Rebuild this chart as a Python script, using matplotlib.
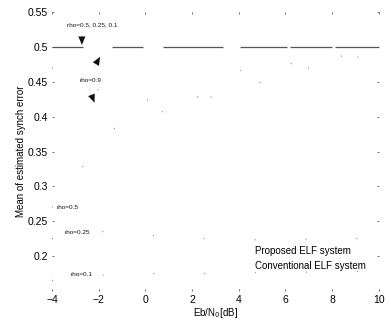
import numpy as np
import matplotlib
matplotlib.use("Agg")
import matplotlib.pyplot as plt

plt.rcParams["font.family"] = ["Liberation Sans", "DejaVu Sans"]

# ------------------------------------ data
ebno = [-4, -3, -2, -1, 0, 1, 2, 3, 4, 5, 6, 7, 8, 9, 10]

prop_mean = [0.5, 0.5, 0.5, 0.5, 0.5, 0.5, 0.5, 0.5,
             0.5, 0.5, 0.5, 0.5, 0.5, 0.5, 0.5]

conv_rho09 = [0.47, 0.45, 0.438, 0.426, 0.424, 0.424, 0.425, 0.44,
              0.466, 0.47, 0.475, 0.48, 0.485, 0.49, 0.495]
conv_rho05 = [0.27, 0.31, 0.369, 0.39, 0.40, 0.41, 0.42, 0.43,
              0.44, 0.45, 0.46, 0.47, 0.48, 0.485, 0.49]
conv_rho025 = [0.225, 0.23, 0.235, 0.235, 0.23, 0.228, 0.226, 0.225,
               0.224, 0.223, 0.223, 0.224, 0.224, 0.225, 0.225]
conv_rho01 = [0.165, 0.17, 0.172, 0.174, 0.175, 0.175, 0.175, 0.175,
              0.176, 0.176, 0.177, 0.177, 0.178, 0.178, 0.179]

xticks = [-4, -2, 0, 2, 4, 6, 8, 10]
yticks = [0.2, 0.25, 0.3, 0.35, 0.4, 0.45, 0.5, 0.55]

# ------------------------------------ figure
fig = plt.figure(figsize=(3.91, 3.20), dpi=100)
axi = fig.add_axes([0.133, 0.091, 0.836, 0.871])

# proposed system: all rho collapse onto 0.5 (faded scan -> broken line)
plw = 0.9
gaps = np.array([31, 29, 31, 20, 60, 17, 47, 3, 42, 3, 45, 10]) * 0.72 / plw
prop, = axi.plot(ebno, prop_mean, color="#555555", linewidth=plw,
                 dashes=list(gaps), label="Proposed ELF system")

# conventional system: barely survives the scan, only specks
conv = None
for yval in (conv_rho09, conv_rho05, conv_rho025, conv_rho01):
    conv, = axi.plot(ebno, yval, color="#777777", linewidth=0.8,
                     dashes=(0.8, 45))
conv.set_label("Conventional ELF system")

# ------------------------------------ annotations
akw = dict(arrowstyle="-|>,head_length=0.6,head_width=0.25",
           color="#111111", linewidth=0.05, shrinkA=0, shrinkB=0)
axi.annotate("", xy=(-2.72, 0.503), xytext=(-2.72, 0.522),
             arrowprops=akw)
axi.annotate("", xy=(-1.94, 0.486), xytext=(-2.25, 0.468),
             arrowprops=akw)
axi.annotate("", xy=(-2.18, 0.420), xytext=(-2.42, 0.441),
             arrowprops=akw)

tkw = dict(fontsize=4.6, color="#111111", va="center")
axi.text(-2.29, 0.532, "rho=0.5, 0.25, 0.1", ha="center", **tkw)
axi.text(-2.33, 0.4526, "rho=0.9", ha="center", **tkw)
axi.text(-3.79, 0.270, "rho=0.5", ha="left", **tkw)
axi.text(-3.44, 0.234, "rho=0.25", ha="left", **tkw)
axi.text(-3.19, 0.174, "rho=0.1", ha="left", **tkw)

axi.legend(handles=[prop, conv], loc="lower left",
           bbox_to_anchor=(0.595, 0.04), frameon=False, fontsize=7,
           handlelength=0, handletextpad=0, labelspacing=0.55)

# ------------------------------------ axes
axi.set_xlim(-4, 10)
axi.set_ylim(0.15, 0.55)
axi.set_xticks(xticks)
axi.set_yticks(yticks)
axi.set_yticklabels([f"{v:g}" for v in yticks])
for sp in axi.spines.values():
    sp.set_visible(False)
axi.tick_params(direction="in", length=1.5, width=0.6, color="#555555",
                labelsize=7.5, top=True, right=True, pad=3)
axi.set_xlabel("Eb/N$_0$[dB]", fontsize=7, labelpad=1)
axi.set_ylabel("Mean of estimated synch error", fontsize=7, labelpad=1)

plt.savefig("out.png", dpi=100)
